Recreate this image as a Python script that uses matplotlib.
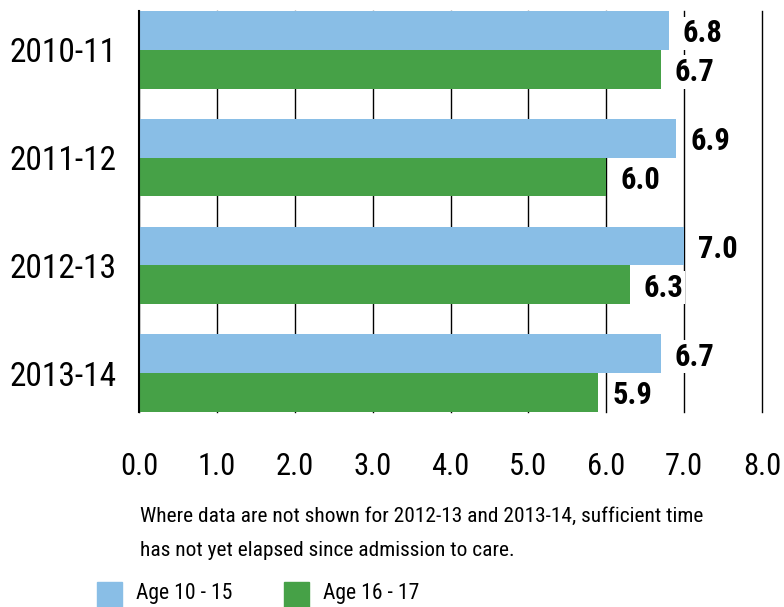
import matplotlib
matplotlib.use("Agg")
import matplotlib.pyplot as plt
import matplotlib.patches as mpatches
from matplotlib import font_manager
import numpy as np

categories = ["2010-11", "2011-12", "2012-13", "2013-14"]
age_10_15 = [6.8, 6.9, 7.0, 6.7]
age_16_17 = [6.7, 6.0, 6.3, 5.9]
series_names = ["Age 10 - 15", "Age 16 - 17"]
xticks = [0, 1, 2, 3, 4, 5, 6, 7, 8]
footnote_lines = ["Where data are not shown for 2012-13 and 2013-14, sufficient time",
                  "has not yet elapsed since admission to care."]

BLUE = "#89BEE6"
GREEN = "#46A147"

names = sorted({f.name for f in font_manager.fontManager.ttflist})
pref = ["Liberation Sans Narrow", "Arial Narrow", "Roboto Condensed",
        "Open Sans Condensed", "DejaVu Sans Condensed", "Liberation Sans"]
narrow = next((n for n in pref if n in names), "DejaVu Sans")
NARROW = [narrow, "DejaVu Sans"]

fig = plt.figure(figsize=(7.84, 6.07), dpi=100)
ax = fig.add_axes([139/784, 1-412/607, (762-139)/784, 401/607])

y = np.arange(len(categories))
h = 0.36
b1 = ax.barh(y - h/2, age_10_15, height=h, color=BLUE, zorder=2)
b2 = ax.barh(y + h/2, age_16_17, height=h, color=GREEN, zorder=2)

for bars, vals in ((b1, age_10_15), (b2, age_16_17)):
    for rect, v in zip(bars, vals):
        ax.annotate(f"{v:.1f}", xy=(rect.get_width(), rect.get_y() + rect.get_height()/2),
                    xytext=(10, -2), textcoords="offset points", ha="left", va="center",
                    fontsize=22, fontweight="bold", family=NARROW, zorder=4,
                    bbox=dict(boxstyle="square,pad=0.05", fc="white", ec="none"))

ax.set_xlim(0, 8)
ax.set_ylim(len(categories) - 1 + h, -h)
ax.set_xticks(xticks)
ax.set_xticklabels([f"{t:.1f}" for t in xticks], family=NARROW, fontsize=22)
ax.set_yticks(y)
ax.set_yticklabels(categories, family=NARROW, fontsize=24)
ax.tick_params(axis="x", length=0, pad=29)
ax.tick_params(axis="y", length=0, pad=16)
for s in ("top", "right", "bottom"):
    ax.spines[s].set_visible(False)
ax.spines["left"].set_color("black")
ax.spines["left"].set_linewidth(1.5)
ax.spines["left"].set_zorder(5)
ax.xaxis.grid(True, color="black", linewidth=1.0, zorder=1)
ax.set_axisbelow(True)
for gl in ax.get_xgridlines():
    gl.set_clip_on(False)

for line, yy in zip(footnote_lines, (516, 550)):
    fig.text(140/784, 1-yy/607, line, ha="left", va="center", fontsize=15.4, family=NARROW)

# legend
fig.patches.append(mpatches.Rectangle((97/784, 0), 25/784, 25/607, color=BLUE,
                                      transform=fig.transFigure, figure=fig))
fig.patches.append(mpatches.Rectangle((284/784, 0), 25/784, 25/607, color=GREEN,
                                      transform=fig.transFigure, figure=fig))
fig.text(136/784, 1-594/607, series_names[0], ha="left", va="center", fontsize=15.6, family=NARROW)
fig.text(323/784, 1-594/607, series_names[1], ha="left", va="center", fontsize=15.6, family=NARROW)

fig.savefig("out.png", dpi=100)
